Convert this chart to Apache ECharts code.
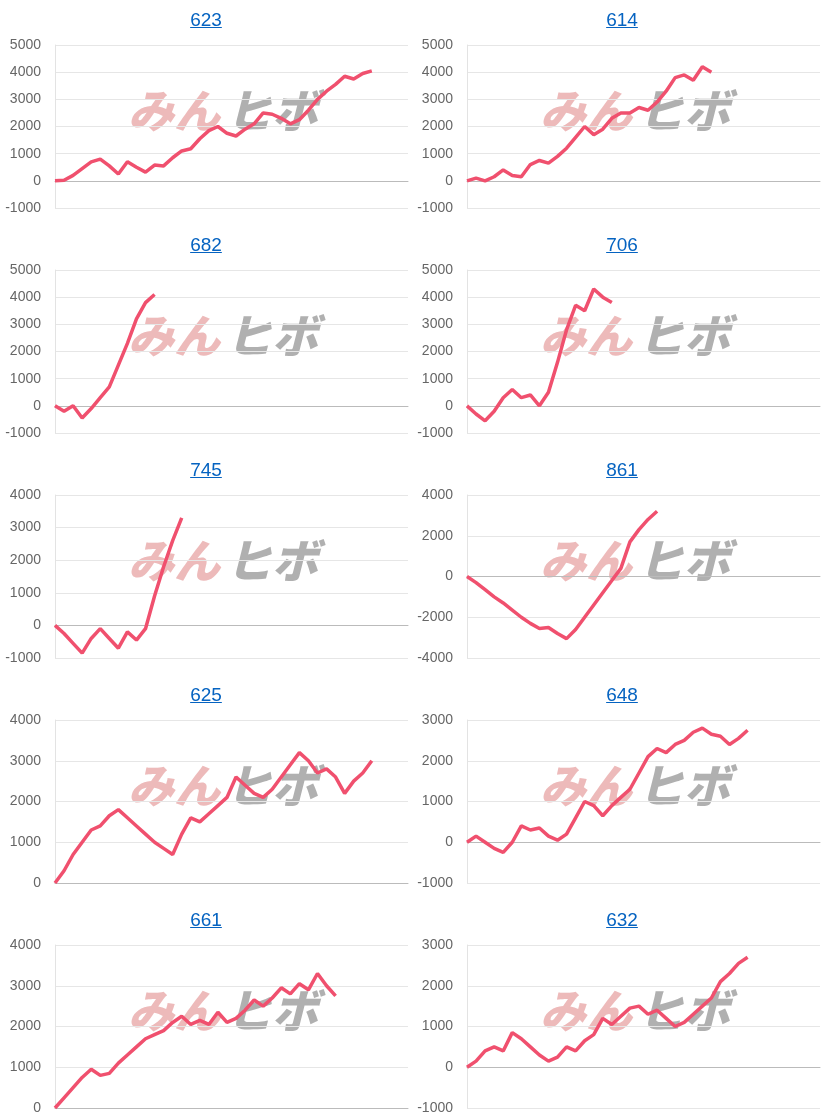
<!DOCTYPE html>
<html><head><meta charset="utf-8">
<script src="https://cdn.jsdelivr.net/npm/echarts@6/dist/echarts.min.js"></script>
<style>
body{margin:0;background:#fff;font-family:Arial,"Liberation Sans",sans-serif}
.cell{position:absolute;width:412px;height:225px}
.cell a{position:absolute;left:0;right:0;top:9px;text-align:center;color:#0563c1;font-size:19px;text-decoration:underline}
.cell.r a{left:8px}
.cell div{position:absolute;left:0;top:0;width:412px;height:225px}
</style></head><body>
<script>
const titles = ['623','614','682','706','745','861','625','648','661','632'];
const s623 = [0,20,200,450,700,800,550,250,700,500,320,580,550,850,1100,1180,1550,1850,2000,1750,1650,1900,2100,2500,2450,2300,2100,2250,2600,3000,3300,3550,3850,3750,3950,4050];
const s614 = [0,100,0,150,400,200,150,600,750,650,900,1200,1600,2000,1700,1900,2300,2500,2500,2700,2600,2900,3300,3800,3900,3700,4200,4000];
const s682 = [0,-200,0,-450,-100,300,700,1500,2300,3200,3800,4100];
const s706 = [0,-300,-550,-200,300,600,300,400,0,500,1600,2800,3700,3500,4300,4000,3800];
const s745 = [0,-250,-550,-850,-400,-100,-400,-700,-200,-450,-100,900,1800,2600,3300];
const s861 = [0,-300,-650,-1000,-1300,-1650,-2000,-2300,-2550,-2500,-2800,-3050,-2600,-2000,-1400,-800,-200,400,1700,2300,2800,3200];
const s625 = [0,300,700,1000,1300,1400,1650,1800,1600,1400,1200,1000,850,700,1200,1600,1500,1700,1900,2100,2600,2400,2200,2100,2300,2600,2900,3200,3000,2700,2800,2600,2200,2500,2700,3000];
const s648 = [0,150,0,-150,-250,0,400,300,350,150,50,200,600,1000,900,650,900,1100,1300,1700,2100,2300,2200,2400,2500,2700,2800,2650,2600,2400,2550,2750];
const s661 = [0,250,500,750,950,800,850,1100,1300,1500,1700,1800,1900,2100,2250,2050,2150,2050,2350,2100,2200,2400,2650,2500,2700,2950,2800,3050,2900,3300,3000,2750];
const s632 = [0,150,400,500,400,850,700,500,300,150,250,500,400,650,800,1200,1050,1250,1450,1500,1300,1400,1200,1000,1100,1300,1500,1700,2100,2300,2550,2700];
const series = [s623,s614,s682,s706,s745,s861,s625,s648,s661,s632];
const yMin = [-1000,-1000,-1000,-1000,-1000,-4000,0,-1000,0,-1000];
const yMax = [5000,5000,5000,5000,4000,4000,4000,3000,4000,3000];
const yStep = [1000,1000,1000,1000,1000,2000,1000,1000,1000,1000];
const slots = 40;
const cats = Array.from({length: slots}, (_, i) => i);

series.forEach((vals, i) => {
  const cell = document.createElement('div');
  cell.className = i % 2 ? 'cell r' : 'cell';
  cell.style.left = (i % 2 ? 412 : 0) + 'px';
  cell.style.top = (Math.floor(i / 2) * 225) + 'px';
  const box = document.createElement('div');
  cell.appendChild(box);
  const a = document.createElement('a');
  a.textContent = titles[i];
  cell.appendChild(a);
  document.body.appendChild(cell);
  const chart = echarts.init(box);
  chart.setOption({
    animation: false,
    grid: {left: 55, right: 4, top: 45, bottom: 17},
    graphic: [
      {type: 'text', left: 128, top: 88, style: {text: 'みん', fill: 'rgba(225,140,140,0.6)', font: 'italic 900 46px "Noto Sans CJK JP"'}},
      {type: 'text', left: 226, top: 88, style: {text: 'ヒボ', fill: 'rgba(150,150,150,0.75)', font: 'italic 900 46px "Noto Sans CJK JP"'}}
    ],
    xAxis: {type: 'category', data: cats, boundaryGap: false,
      axisLine: {lineStyle: {color: '#bbb'}}, axisTick: {show: false}, axisLabel: {show: false}},
    yAxis: {type: 'value', min: yMin[i], max: yMax[i], interval: yStep[i],
      axisLine: {show: true, lineStyle: {color: '#e3e3e3'}},
      axisLabel: {color: '#666', fontSize: 14, margin: 14, formatter: v => String(v)},
      splitLine: {lineStyle: {color: '#e6e6e6'}}},
    series: [{type: 'line', data: vals, showSymbol: false, z: 3,
      lineStyle: {color: '#f0506e', width: 3.5}}]
  });
});
</script>
</body></html>
